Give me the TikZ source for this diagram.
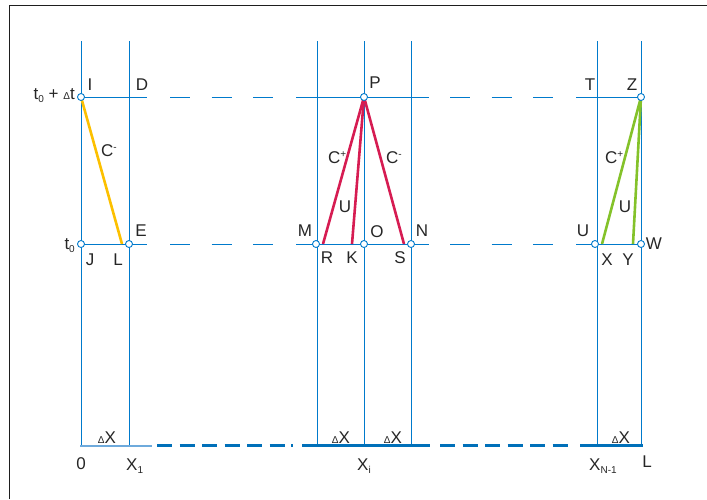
\documentclass[tikz,border=0pt]{standalone}
\usepackage{fontspec}
\setmainfont{Liberation Sans}
\definecolor{lineblue}{RGB}{0,122,204}
\definecolor{axisblue}{RGB}{0,112,185}
\definecolor{lightblue}{RGB}{110,170,220}
\definecolor{cyellow}{RGB}{252,192,0}
\definecolor{ccrimson}{RGB}{214,28,82}
\definecolor{cgreen}{RGB}{132,194,42}
\definecolor{framec}{RGB}{30,30,30}
\tikzset{
  grid/.style={draw=lineblue, line width=1pt},
  gdash/.style={draw=lineblue, line width=1pt, dash pattern=on 20pt off 21.5pt},
  axis/.style={draw=axisblue, line width=2.2pt},
  adash/.style={draw=axisblue, line width=2.2pt, dash pattern=on 15pt off 7.5pt},
  pt/.style={circle, draw=lineblue, fill=white, line width=0.9pt, inner sep=0pt, minimum size=7pt},
  lab/.style={inner sep=0pt, text=black!85},
  chy/.style={draw=cyellow, line width=2.6pt},
  chr/.style={draw=ccrimson, line width=2.6pt},
  chg/.style={draw=cgreen, line width=2.6pt},
}
\newcommand{\dx}{{\fontsize{10}{10}\selectfont Δ}X}
\newcommand{\sbs}[1]{\raisebox{-3pt}{\fontsize{10}{10}\selectfont #1}}
\newcommand{\sps}[1]{\raisebox{6pt}{\fontsize{10}{10}\selectfont #1}}
\begin{document}
\begin{tikzpicture}[x=1pt,y=-1pt,font=\fontsize{17}{20}\selectfont]
\useasboundingbox (0,0) rectangle (707,499);
% frame
\draw[framec, line width=1.3pt] (9.5,499) -- (9.5,5.5) -- (707,5.5);
% vertical grid lines
\foreach \x/\n in {81/a,129/b,317/c,364/d,411/e,597/f,641/g}{
  \coordinate (top\n) at (\x,41);
  \coordinate (bot\n) at (\x,445);
  \draw[grid] (top\n) -- (bot\n);
}
% horizontal grid lines
\foreach \y/\n in {97/u,244/l}{
  \coordinate (\n1) at (81,\y);
  \coordinate (\n2) at (147,\y);
  \coordinate (\n3) at (170,\y);
  \coordinate (\n4) at (275,\y);
  \coordinate (\n5) at (296,\y);
  \coordinate (\n6) at (429,\y);
  \coordinate (\n7) at (450,\y);
  \coordinate (\n8) at (555,\y);
  \coordinate (\n9) at (576,\y);
  \coordinate (\n10) at (641,\y);
  \draw[grid] (\n1) -- (\n2);
  \draw[gdash] (\n3) -- (\n4);
  \draw[grid] (\n5) -- (\n6);
  \draw[gdash] (\n7) -- (\n8);
  \draw[grid] (\n9) -- (\n10);
}
% bottom axis
\coordinate (x0) at (80,445.5);
\coordinate (x1) at (152,445.5);
\coordinate (x2) at (157,445.5);
\coordinate (x3) at (287,445.5);
\coordinate (x4) at (291,445.5);
\coordinate (x5) at (293,445.5);
\coordinate (x6) at (302,445.5);
\coordinate (x7) at (430,445.5);
\coordinate (x8) at (440,445.5);
\coordinate (x9) at (570,445.5);
\coordinate (x10) at (580,445.5);
\coordinate (x11) at (643,445.5);
\draw[draw=lightblue, line width=2pt] (x0) -- (x1);
\draw[adash] (x2) -- (x3);
\draw[axis] (x4) -- (x5);
\draw[axis] (x6) -- (x7);
\draw[adash] (x8) -- (x9);
\draw[axis] (x10) -- (x11);
% characteristic lines
\coordinate (I) at (81,97);
\coordinate (Lp) at (122,244);
\coordinate (P) at (364,97);
\coordinate (R) at (323,244);
\coordinate (K) at (352,244);
\coordinate (S) at (404,244);
\coordinate (Z) at (641,97);
\coordinate (X) at (602,244);
\coordinate (Y) at (633,244);
\draw[chy] (I) -- (Lp);
\draw[chr] (P) -- (R);
\draw[chr] (P) -- (K);
\draw[chr] (P) -- (S);
\draw[chg] (Z) -- (X);
\draw[chg] (Z) -- (Y);
% points
\node[pt] (pI) at (I) {};
\node[pt] (pJ) at (81,244) {};
\node[pt] (pE) at (129,244) {};
\node[pt] (pP) at (P) {};
\node[pt] (pM) at (316,244) {};
\node[pt] (pO) at (364,244) {};
\node[pt] (pN) at (411,244) {};
\node[pt] (pZ) at (Z) {};
\node[pt] (pU) at (595,244) {};
\node[pt] (pW) at (641,244) {};
% labels left
\node[lab, anchor=base east] (ltdt) at (75,99) {t\sbs{0} + {\fontsize{10}{10}\selectfont Δ}t};
\node[lab] (lI) at (90,85) {I};
\node[lab] (lD) at (142,85) {D};
\node[lab, anchor=base west] (lC1) at (101,156) {C\sps{-}};
\node[lab] (lE) at (141,231) {E};
\node[lab, anchor=base east] (lt0) at (75,249) {t\sbs{0}};
\node[lab] (lJ) at (90,260) {J};
\node[lab] (lL) at (118,260) {L};
% labels middle
\node[lab] (lP) at (375,83) {P};
\node[lab, anchor=base west] (lC2) at (328,163) {C\sps{+}};
\node[lab, anchor=base west] (lC3) at (386,163) {C\sps{-}};
\node[lab] (lU1) at (345,207) {U};
\node[lab] (lM) at (305,231) {M};
\node[lab] (lO) at (377,232) {O};
\node[lab] (lN) at (422,231) {N};
\node[lab] (lR) at (327,258) {R};
\node[lab] (lK) at (352,258) {K};
\node[lab] (lS) at (400,258) {S};
% labels right
\node[lab] (lT) at (590,85) {T};
\node[lab] (lZ) at (632,85) {Z};
\node[lab, anchor=base west] (lC4) at (605,163) {C\sps{+}};
\node[lab] (lU2) at (625,207) {U};
\node[lab] (lU3) at (583,231) {U};
\node[lab] (lW) at (654,244) {W};
\node[lab] (lX) at (607,260) {X};
\node[lab] (lY) at (628,260) {Y};
% bottom labels
\node[lab, anchor=base] (ldx1) at (107,443) {\dx};
\node[lab, anchor=base] (ldx2) at (341,443) {\dx};
\node[lab, anchor=base] (ldx3) at (393,443) {\dx};
\node[lab, anchor=base] (ldx4) at (621,443) {\dx};
\node[lab] (l0) at (81,464) {0};
\node[lab, anchor=base west] (lX1) at (126,470) {X\sbs{1}};
\node[lab, anchor=base west] (lXi) at (357,470) {X\sbs{i}};
\node[lab, anchor=base west] (lXN) at (589,470) {X\sbs{N-1}};
\node[lab] (lLL) at (647,462) {L};
\end{tikzpicture}
\end{document}
